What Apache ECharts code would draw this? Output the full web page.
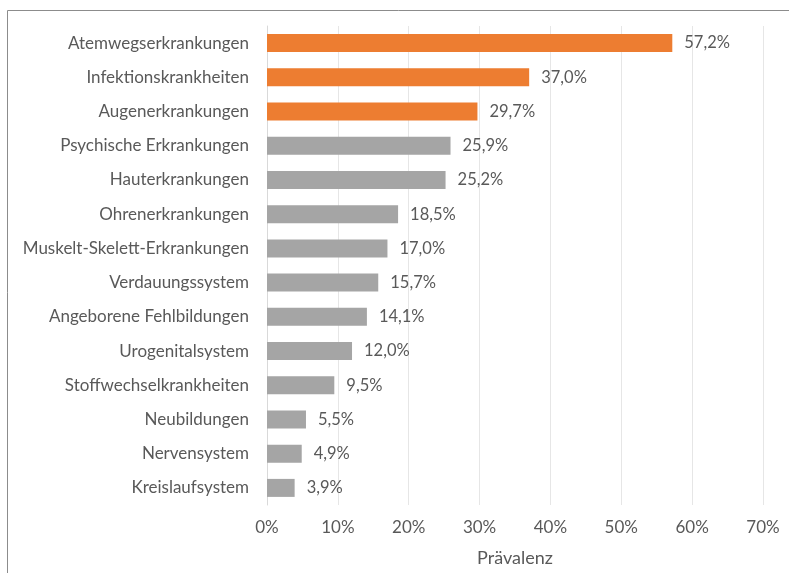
<!DOCTYPE html>
<html>
<head>
<meta charset="utf-8">
<script src="https://cdn.jsdelivr.net/npm/echarts@6/dist/echarts.min.js"></script>
<style>
  html, body { margin: 0; padding: 0; background: #fff; }
  #chart { width: 789px; height: 573px; }
</style>
</head>
<body>
<div id="chart"></div>
<script>
  // Kategorien von oben nach unten
  var categories = [
    'Atemwegserkrankungen', 'Infektionskrankheiten', 'Augenerkrankungen',
    'Psychische Erkrankungen', 'Hauterkrankungen', 'Ohrenerkrankungen',
    'Muskelt-Skelett-Erkrankungen', 'Verdauungssystem', 'Angeborene Fehlbildungen',
    'Urogenitalsystem', 'Stoffwechselkrankheiten', 'Neubildungen',
    'Nervensystem', 'Kreislaufsystem'
  ];
  var values = [57.2, 37.0, 29.7, 25.9, 25.2, 18.5, 17.0, 15.7, 14.1, 12.0, 9.5, 5.5, 4.9, 3.9];
  var highlighted = [true, true, true, false, false, false, false, false, false, false, false, false, false, false];
  var xTicks = [0, 10, 20, 30, 40, 50, 60, 70];

  var font = 'Lato, "Open Sans", sans-serif';
  var textColor = '#595959';

  var myChart = echarts.init(document.getElementById('chart'));
  myChart.setOption({
    animation: false,
    textStyle: { fontFamily: font },
    graphic: [{
      type: 'rect',
      shape: { x: 7.5, y: 10.5, width: 900, height: 700 },
      style: { fill: 'none', stroke: '#8c8c8c', lineWidth: 1 },
      silent: true
    }],
    grid: { left: 267, right: 26, top: 26, bottom: 68 },
    xAxis: {
      type: 'value',
      min: xTicks[0],
      max: xTicks[xTicks.length - 1],
      interval: 10,
      name: 'Prävalenz',
      nameLocation: 'middle',
      nameGap: 44,
      nameTextStyle: { color: textColor, fontSize: 18, fontFamily: font },
      axisLine: { show: false },
      axisTick: { show: false },
      axisLabel: {
        color: textColor, fontSize: 17, margin: 14, fontFamily: font,
        formatter: function (v) { return v + '%'; }
      },
      splitLine: { lineStyle: { color: '#e6e6e6', width: 1 } }
    },
    yAxis: {
      type: 'category',
      inverse: true,
      data: categories,
      axisLine: { lineStyle: { color: '#d9d9d9', width: 1 } },
      axisTick: { show: false },
      axisLabel: { color: textColor, fontSize: 17, margin: 18, fontFamily: font }
    },
    series: [{
      type: 'bar',
      barWidth: 18,
      data: values.map(function (v, i) {
        return { value: v, itemStyle: { color: highlighted[i] ? '#ed7d31' : '#a5a5a5' } };
      }),
      label: {
        show: true,
        position: 'right',
        distance: 12,
        color: textColor,
        fontSize: 16.5,
        fontFamily: font,
        formatter: function (p) { return p.value.toFixed(1).replace('.', ',') + '%'; }
      }
    }]
  });
</script>
</body>
</html>
